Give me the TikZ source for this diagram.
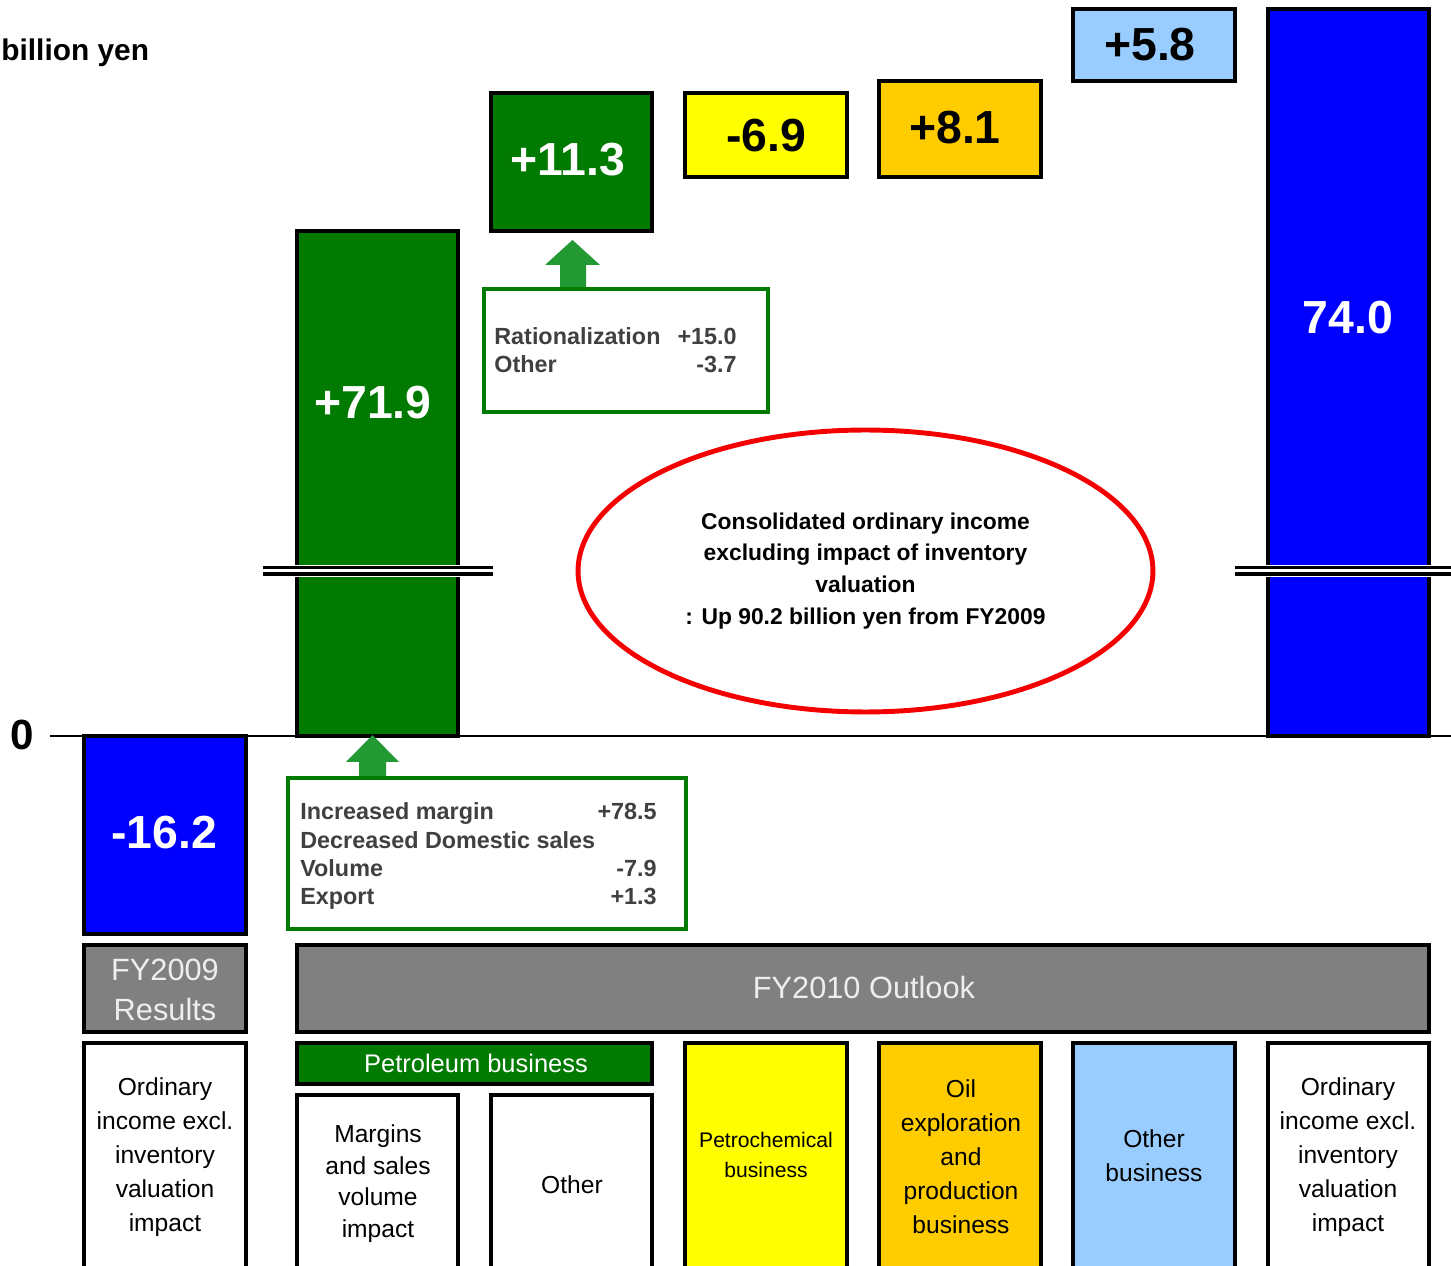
\documentclass[tikz,border=0pt]{standalone}
\usepackage{fontspec}
\setmainfont{Liberation Sans}
\usetikzlibrary{fit,shapes.geometric}
\definecolor{bargreen}{RGB}{0,122,0}
\definecolor{barblue}{RGB}{0,0,255}
\definecolor{baryellow}{RGB}{255,255,0}
\definecolor{barorange}{RGB}{255,204,0}
\definecolor{barsky}{RGB}{153,204,255}
\definecolor{arrowgreen}{RGB}{34,153,51}
\definecolor{hdrgray}{RGB}{128,128,128}
\definecolor{hdrtextcol}{RGB}{238,238,238}
\definecolor{txtgray}{RGB}{64,64,64}
\definecolor{ovalred}{RGB}{245,0,0}
\tikzset{
  barbox/.style={draw=black, line width=1.8pt, inner sep=0pt},
  numlabel/.style={font=\fontsize{26.4}{30}\selectfont\bfseries, inner sep=0pt},
  calloutbox/.style={draw=bargreen, line width=2.4pt, fill=white, inner sep=0pt},
  callouttext/.style={font=\fontsize{13.3}{15}\selectfont\bfseries, text=txtgray, inner sep=0pt},
  hdrbox/.style={barbox, fill=hdrgray},
  hdrtext/.style={text=hdrtextcol, font=\fontsize{17.5}{22.7}\selectfont, align=center, inner sep=0pt},
  cattext/.style={font=\fontsize{14}{19.3}\selectfont, align=center, inner sep=0pt},
  breakline/.style={line width=1.8pt},
}
\begin{document}
\begin{tikzpicture}[x=0.02cm,y=-0.02cm]
\useasboundingbox (0,0) rectangle (1451,1266);
\clip (0,0) rectangle (1451,1266);
\fill[white] (0,0) rectangle (1451,1266);

% unit label and zero axis
\node[anchor=base west, font=\fontsize{17}{20}\selectfont\bfseries, inner sep=0pt] (unit) at (1,61) {billion yen};
\node[font=\fontsize{24}{28}\selectfont\bfseries, inner sep=0pt] (zero) at (22,735) {0};
\coordinate (axisL) at (50,736);
\coordinate (axisR) at (1451,736);
\draw[line width=0.7pt] (axisL) -- (axisR);

% bars
\node[barbox, fill=barblue, fit={(84,736) (246,934)}] (b0) {};
\node[barbox, fill=bargreen, fit={(297,231) (458,736)}] (b1) {};
\node[barbox, fill=bargreen, fit={(491,93) (652,231)}] (b2) {};
\node[barbox, fill=baryellow, fit={(685,93) (847,177)}] (b3) {};
\node[barbox, fill=barorange, fit={(879,81) (1041,177)}] (b4) {};
\node[barbox, fill=barsky, fit={(1073,9) (1235,81)}] (b5) {};
\node[barbox, fill=barblue, fit={(1268,9) (1429,736)}] (b6) {};

\node[numlabel, text=white] (v0) at (164,833) {-16.2};
\node[numlabel, text=white] (v1) at (373,403) {+71.9};
\node[numlabel, text=white] (v2) at (568,160) {+11.3};
\node[numlabel, text=black] (v3) at (766,136) {-6.9};
\node[numlabel, text=black] (v4) at (955,128) {+8.1};
\node[numlabel, text=black] (v5) at (1150,45) {+5.8};
\node[numlabel, text=white] (v6) at (1348,318) {74.0};

% axis breaks
\fill[white] (263,565) rectangle (493,577);
\draw[breakline] (263,567.5) -- (493,567.5);
\draw[breakline] (263,574) -- (493,574);
\fill[white] (1235,565) rectangle (1451,577);
\draw[breakline] (1235,567.5) -- (1451,567.5);
\draw[breakline] (1235,574) -- (1451,574);

% callout 1
\fill[arrowgreen] (560,289) -- (560,265) -- (545,265) -- (572.5,240) -- (600,265) -- (586,265) -- (586,289) -- cycle;
\node[calloutbox, fit={(484,289) (768,412)}] (c1) {};
\node[callouttext, anchor=base west] (c1a) at (494,345) {Rationalization};
\node[callouttext, anchor=base east] (c1b) at (737,345) {+15.0};
\node[callouttext, anchor=base west] (c1c) at (494,373) {Other};
\node[callouttext, anchor=base east] (c1d) at (737,373) {-3.7};

% callout 2
\fill[arrowgreen] (359,778) -- (359,762) -- (346,762) -- (372.5,735) -- (399,762) -- (386,762) -- (386,778) -- cycle;
\node[calloutbox, fit={(288,778) (686,929)}] (c2) {};
\node[callouttext, anchor=base west] (c2a) at (300,820) {Increased margin};
\node[callouttext, anchor=base east] (c2b) at (657,820) {+78.5};
\node[callouttext, anchor=base west] (c2c) at (300,848) {Decreased Domestic sales};
\node[callouttext, anchor=base west] (c2d) at (300,877) {Volume};
\node[callouttext, anchor=base east] (c2e) at (657,877) {-7.9};
\node[callouttext, anchor=base west] (c2f) at (300,905) {Export};
\node[callouttext, anchor=base east] (c2g) at (657,905) {+1.3};

% oval
\node[ellipse, draw=ovalred, line width=2.8pt, minimum width=11.5cm, minimum height=5.64cm,
      inner sep=0pt, align=center, font=\fontsize{13}{18.14}\selectfont\bfseries] (oval) at (865.5,571)
  {Consolidated ordinary income\\excluding impact of inventory\\valuation\\: Up 90.2 billion yen from FY2009};

% headers
\node[hdrbox, fit={(84,945) (246,1032)}] (h1) {};
\node[hdrtext] (h1t) at (165,990) {FY2009\\Results};
\node[hdrbox, fit={(297,945) (1429,1032)}] (h2) {};
\node[hdrtext] (h2t) at (864,988) {FY2010 Outlook};

% categories
\node[barbox, fill=bargreen, fit={(297,1043) (652,1084)}] (pet) {};
\node[cattext, text=white, font=\fontsize{14.5}{18}\selectfont] (pett) at (476,1063) {Petroleum business};

\node[barbox, fill=white, fit={(84,1043) (246,1290)}] (k0) {};
\node[cattext] (k0t) at (165,1157) {Ordinary\\income excl.\\inventory\\valuation\\impact};
\node[barbox, fill=white, fit={(297,1095) (458,1290)}] (k1) {};
\node[cattext, font=\fontsize{14}{18}\selectfont] (k1t) at (378,1183.5) {Margins\\and sales\\volume\\impact};
\node[barbox, fill=white, fit={(491,1095) (652,1290)}] (k2) {};
\node[cattext] (k2t) at (572,1185) {Other};
\node[barbox, fill=baryellow, fit={(685,1043) (847,1290)}] (k3) {};
\node[cattext, font=\fontsize{12}{17}\selectfont] (k3t) at (766,1155) {Petrochemical\\business};
\node[barbox, fill=barorange, fit={(879,1043) (1041,1290)}] (k4) {};
\node[cattext] (k4t) at (961,1157) {Oil\\exploration\\and\\production\\business};
\node[barbox, fill=barsky, fit={(1073,1043) (1235,1290)}] (k5) {};
\node[cattext] (k5t) at (1154,1156) {Other\\business};
\node[barbox, fill=white, fit={(1268,1043) (1429,1290)}] (k6) {};
\node[cattext] (k6t) at (1348,1157) {Ordinary\\income excl.\\inventory\\valuation\\impact};
\end{tikzpicture}
\end{document}
